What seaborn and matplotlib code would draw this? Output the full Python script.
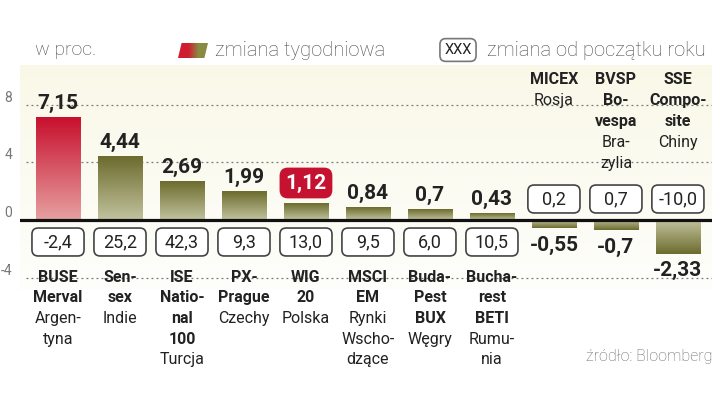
import numpy as np
import matplotlib
matplotlib.use("Agg")
import matplotlib.pyplot as plt
from matplotlib.colors import LinearSegmentedColormap
from matplotlib.patches import FancyBboxPatch, Polygon
import seaborn as sns
import pandas as pd

# Data
weekly = [7.15, 4.44, 2.69, 1.99, 1.12, 0.84, 0.7, 0.43, -0.55, -0.7, -2.33]
ytd = [-2.4, 25.2, 42.3, 9.3, 13.0, 9.5, 6.0, 10.5, 0.2, 0.7, -10.0]
index_names = [["BUSE", "Merval"], ["Sen-", "sex"], ["ISE", "Natio-", "nal", "100"],
               ["PX-", "Prague"], ["WIG", "20"], ["MSCI", "EM"], ["Buda-", "Pest", "BUX"],
               ["Bucha-", "rest", "BETI"], ["MICEX"], ["BVSP", "Bo-", "vespa"],
               ["SSE", "Compo-", "site"]]
countries = [["Argen-", "tyna"], ["Indie"], ["Turcja"], ["Czechy"], ["Polska"],
             ["Rynki", "Wscho-", "dzące"], ["Węgry"], ["Rumu-", "nia"], ["Rosja"],
             ["Bra-", "zylia"], ["Chiny"]]
yticks = [8, 4, 0, -4]

sns.set_style("white")
plt.rcParams['font.family'] = ['Roboto', 'DejaVu Sans']

GRAY = "#4a4a4a"
DARK = "#222222"


def py(p):
    # pixel row -> data value (zero line at row 220, 14.4 px per unit)
    return (220 - p) / 14.4


fig = plt.figure(figsize=(7.2, 4.04), dpi=100)
ax = fig.add_axes([20 / 720, 114 / 404, 692 / 720, 225 / 404])

df = pd.DataFrame({"name": [" ".join(n) for n in index_names], "weekly": weekly})
sns.barplot(data=df, x="name", y="weekly", width=0.71, color="#888855", ax=ax, zorder=3)

# gradient fill for the bars
olive = LinearSegmentedColormap.from_list("olive", ["#c2c29e", "#6c6c2e"])
red = LinearSegmentedColormap.from_list("red", ["#e6a0a0", "#c8102e"])
for i, p in enumerate(ax.patches):
    x0, w = p.get_x(), p.get_width()
    y0, h = p.get_y(), p.get_height()
    lo, hi = min(y0, y0 + h), max(y0, y0 + h)
    grad = np.linspace(0, 1, 100).reshape(-1, 1)
    if h < 0:
        grad = grad[::-1]
    cmap = red if i == 0 else olive
    ax.imshow(grad, extent=(x0, x0 + w, lo, hi), origin="lower", aspect="auto",
              cmap=cmap, zorder=3)
    p.set_visible(False)

# faint cream background
bg = np.linspace(0, 1, 100).reshape(-1, 1)
bgmap = LinearSegmentedColormap.from_list("bg", ["#fefefb", "#f9f8e8"])
ax.imshow(bg, extent=(-0.613, 10.55, py(290), py(65)), origin="lower", aspect="auto",
          cmap=bgmap, zorder=0)

ax.set_xlim(-0.613, 10.55)
ax.set_ylim(py(290), py(65))

# grid and zero line
for t in yticks:
    if t != 0:
        ax.axhline(t, xmin=0.008, color="#777777", lw=0.9, ls=(0, (1.5, 2.5)), zorder=1)
ax.axhline(0, color="#111111", lw=2.3, zorder=4)

ax.set_yticks(yticks)
ax.set_yticklabels([str(t) for t in yticks])
ax.tick_params(left=False, bottom=False, labelsize=10, labelcolor="#777777", pad=2)
for lbl in ax.get_yticklabels():
    lbl.set_va("bottom")
ax.set_xticks([])
ax.set_xlabel("")
ax.set_ylabel("")
sns.despine(ax=ax, left=True, bottom=True)

# weekly value labels
for i, v in enumerate(weekly):
    s = f"{v:g}".replace(".", ",")
    if i == 4:
        ax.text(i, v + 1.45, s, ha="center", va="center", fontsize=15, fontweight="bold",
                color="white", zorder=6,
                bbox=dict(boxstyle="round,pad=0.28,rounding_size=0.4", fc="#c41230", ec="none"))
    elif v >= 0:
        ax.text(i, v + 0.6, s, ha="center", va="baseline", fontsize=15,
                fontweight="bold", color=DARK, zorder=6)
    else:
        ax.text(i, v - 1.2, s, ha="center", va="center", fontsize=15,
                fontweight="bold", color=DARK, zorder=6)

# year-to-date boxes
bw, bh = 0.84, 1.94
for i, v in enumerate(ytd):
    yc = py(242) if i < 8 else py(199)
    box = FancyBboxPatch((i - bw / 2, yc - bh / 2), bw, bh,
                         boxstyle="round,pad=0,rounding_size=0.1", mutation_aspect=4.3,
                         fc="white", ec="#444444", lw=1.2, zorder=5)
    ax.add_patch(box)
    ax.text(i, yc, f"{v:.1f}".replace(".", ","), ha="center", va="center",
            fontsize=13, color=DARK, zorder=6)

# category labels
for i in range(len(index_names)):
    lines = [(t, "bold") for t in index_names[i]] + [(t, "normal") for t in countries[i]]
    start, step = (277, 20.7) if i < 8 else (80, 20.8)
    for k, (t, wgt) in enumerate(lines):
        ax.text(i, py(start + step * k), t, ha="center", va="center", fontsize=11.5,
                fontweight=wgt, color=DARK, zorder=6)

# header / legend
fy = 1 - 50 / 404
fig.text(35 / 720, fy, "w proc.", ha="left", va="center", fontsize=14, color=GRAY,
         fontweight="light")
sw = fig.add_axes([178 / 720, 1 - 58 / 404, 30 / 720, 15 / 404])
sw_cmap = LinearSegmentedColormap.from_list("sw", ["#d01c30", "#d01c30", "#8a8a40", "#8a8a40"])
sw_img = sw.imshow(np.linspace(0, 1, 100).reshape(1, -1), aspect="auto", cmap=sw_cmap,
                   extent=(0, 1, 0, 1))
clip = Polygon([(0.12, 1), (1, 1), (0.88, 0), (0, 0)], closed=True, transform=sw.transData)
sw_img.set_clip_path(clip)
sw.axis("off")
fig.text(215 / 720, fy, "zmiana tygodniowa", ha="left", va="center", fontsize=14.5,
         color=GRAY, fontweight="light")
fig.text(458 / 720, fy, "XXX", ha="center", va="center", fontsize=10.5, color=DARK,
         bbox=dict(boxstyle="round,pad=0.3,rounding_size=0.4", fc="white", ec="#777777", lw=1.2))
fig.text(487 / 720, fy, "zmiana od początku roku", ha="left", va="center", fontsize=14.5,
         color=GRAY, fontweight="light")
fig.text(712 / 720, 1 - 357 / 404, "źródło: Bloomberg", ha="right", va="center",
         fontsize=11.5, color="#666666", fontweight="light")

fig.savefig("out.png", dpi=100)
